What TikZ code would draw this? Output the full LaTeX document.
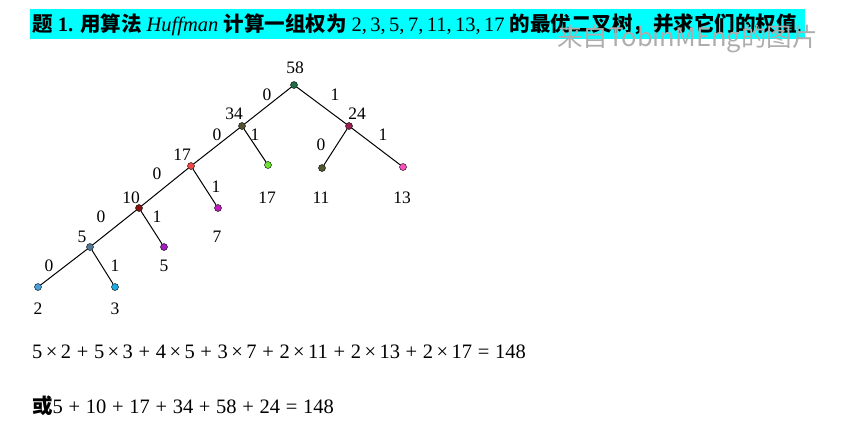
\documentclass[tikz,border=0pt]{standalone}
\usepackage{fontspec}
\setmainfont{Liberation Serif}
\newfontfamily\hei{Noto Sans CJK SC}
\usetikzlibrary{calc}

\definecolor{titlebar}{RGB}{0,255,255}
\definecolor{c58}{RGB}{30,110,70}
\definecolor{c34}{RGB}{85,80,50}
\definecolor{c24}{RGB}{150,30,80}
\definecolor{c17}{RGB}{240,70,70}
\definecolor{c10}{RGB}{130,20,20}
\definecolor{c5}{RGB}{80,120,150}
\definecolor{cl17}{RGB}{110,225,50}
\definecolor{cl11}{RGB}{85,85,45}
\definecolor{cl13}{RGB}{250,80,190}
\definecolor{cl7}{RGB}{190,30,190}
\definecolor{cl5}{RGB}{160,30,190}
\definecolor{cl2}{RGB}{70,160,220}
\definecolor{cl3}{RGB}{30,170,225}

\begin{document}
\begin{tikzpicture}[x=1pt, y=-1pt, font=\fontsize{17.5}{20}\selectfont,
    dot/.style={circle, draw=black, line width=0.4pt, inner sep=0pt, minimum size=7pt, fill=#1},
    lbl/.style={inner sep=0pt},
    edge/.style={line width=1pt}]

    \useasboundingbox (0,0) rectangle (842,424);

    % title bar
    \fill[titlebar] (30,9) rectangle (805,39);
    \node[lbl, anchor=base west, font=\fontsize{20.5}{22}\selectfont] (title) at (32,31)
      {{\hei\bfseries 题} \textbf{1.} {\hei\bfseries 用算法} \textit{Huffman} {\hei\bfseries 计算一组权为}
       2,\,3,\,5,\,7,\,11,\,13,\,17 {\hei\bfseries 的最优二叉树，并求它们的权值}.};

    % internal nodes
    \node[dot=c58] (n58) at (294,85) {};
    \node[dot=c34] (n34) at (242,126) {};
    \node[dot=c24] (n24) at (349,126) {};
    \node[dot=c17] (n17) at (191,166) {};
    \node[dot=c10] (n10) at (139,208) {};
    \node[dot=c5] (n5) at (90,247) {};

    % leaves
    \node[dot=cl17] (l17) at (268,165) {};
    \node[dot=cl11] (l11) at (322,168) {};
    \node[dot=cl13] (l13) at (403,167) {};
    \node[dot=cl7] (l7) at (218,208) {};
    \node[dot=cl5] (l5) at (164,247) {};
    \node[dot=cl2] (l2) at (38,287) {};
    \node[dot=cl3] (l3) at (115,287) {};

    \draw[edge] (n58) -- (n34);
    \draw[edge] (n58) -- (n24);
    \draw[edge] (n34) -- (n17);
    \draw[edge] (n34) -- (l17);
    \draw[edge] (n24) -- (l11);
    \draw[edge] (n24) -- (l13);
    \draw[edge] (n17) -- (n10);
    \draw[edge] (n17) -- (l7);
    \draw[edge] (n10) -- (n5);
    \draw[edge] (n10) -- (l5);
    \draw[edge] (n5) -- (l2);
    \draw[edge] (n5) -- (l3);

    % weights
    \node[lbl] (t58) at (295,68) {58};
    \node[lbl] (t34) at (234,114) {34};
    \node[lbl] (t24) at (357,114) {24};
    \node[lbl] (t17) at (182,155) {17};
    \node[lbl] (t10) at (131,198) {10};
    \node[lbl] (t5) at (82,237) {5};
    \node[lbl] (tl17) at (267,198) {17};
    \node[lbl] (tl11) at (321,198) {11};
    \node[lbl] (tl13) at (402,198) {13};
    \node[lbl] (tl7) at (217,237) {7};
    \node[lbl] (tl5) at (164,266) {5};
    \node[lbl] (tl2) at (38,309) {2};
    \node[lbl] (tl3) at (115,309) {3};

    % codes
    \node[lbl] (b58a) at (267,95) {0};
    \node[lbl] (b58b) at (335,95) {1};
    \node[lbl] (b34a) at (217,135) {0};
    \node[lbl] (b34b) at (255,135) {1};
    \node[lbl] (b24a) at (321,145) {0};
    \node[lbl] (b24b) at (383,135) {1};
    \node[lbl] (b17a) at (157,174) {0};
    \node[lbl] (b17b) at (216,187) {1};
    \node[lbl] (b10a) at (101,217) {0};
    \node[lbl] (b10b) at (157,217) {1};
    \node[lbl] (b5a) at (49,266) {0};
    \node[lbl] (b5b) at (115,266) {1};

    % weighted path length
    \node[lbl, anchor=base west, font=\fontsize{20.5}{22}\selectfont] (sum1) at (32,358)
      {5\,×\,2\;+\;5\,×\,3\;+\;4\,×\,5\;+\;3\,×\,7\;+\;2\,×\,11\;+\;2\,×\,13\;+\;2\,×\,17\;=\;148};
    \node[lbl, anchor=base west, font=\fontsize{20.5}{22}\selectfont] (sum2) at (32,413)
      {{\hei\bfseries 或}5\;+\;10\;+\;17\;+\;34\;+\;58\;+\;24\;=\;148};

    % watermark
    \node[lbl, anchor=base west, text=black!32, font=\hei\fontsize{25.5}{28}\selectfont] (mark) at (557,46)
      {来自TobinMEng的图片};

\end{tikzpicture}
\end{document}
